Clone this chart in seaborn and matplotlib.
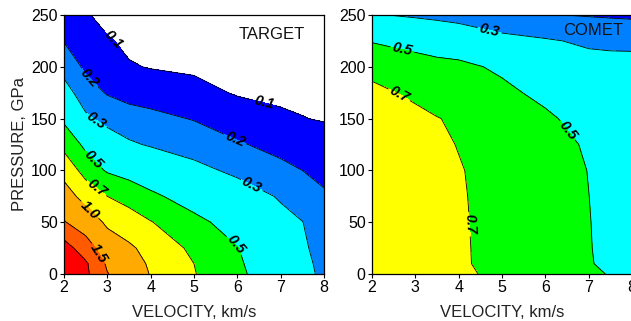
import numpy as np
import matplotlib
matplotlib.use("Agg")
import matplotlib.pyplot as plt
import seaborn as sns

# ---------------- data ----------------
velocity = [2, 2.5, 3, 3.5, 4, 5, 6, 7, 7.5, 8]          # km/s
pressure = [0, 10, 25, 50, 75, 100, 125, 150, 175, 200, 225, 250]  # GPa

# TARGET: one row per pressure, one value per velocity
target = [
    [2.80, 2.10, 1.52, 1.25, 0.98, 0.71, 0.53, 0.40, 0.33, 0.28],
    [2.60, 2.07, 1.43, 1.17, 0.95, 0.70, 0.52, 0.39, 0.325, 0.275],
    [2.22, 1.73, 1.23, 1.05, 0.90, 0.64, 0.505, 0.37, 0.315, 0.265],
    [1.53, 1.25, 0.93, 0.83, 0.71, 0.54, 0.435, 0.33, 0.302, 0.25],
    [1.18, 0.86, 0.70, 0.60, 0.53, 0.43, 0.355, 0.29, 0.25, 0.213],
    [0.87, 0.61, 0.48, 0.44, 0.40, 0.33, 0.278, 0.225, 0.20, 0.173],
    [0.63, 0.46, 0.365, 0.315, 0.29, 0.256, 0.21, 0.17, 0.152, 0.133],
    [0.467, 0.32, 0.266, 0.237, 0.224, 0.195, 0.151, 0.112, 0.102, 0.095],
    [0.348, 0.24, 0.193, 0.171, 0.16, 0.13, 0.092, 0.085, 0.085, 0.08],
    [0.26, 0.184, 0.152, 0.108, 0.095, 0.085, 0.08, 0.072, 0.07, 0.068],
    [0.196, 0.147, 0.11, 0.08, 0.075, 0.07, 0.068, 0.064, 0.062, 0.06],
    [0.143, 0.11, 0.068, 0.06, 0.058, 0.056, 0.055, 0.054, 0.053, 0.052],
]

# COMET
comet = [
    [0.87, 0.835, 0.80, 0.77, 0.73, 0.663, 0.595, 0.527, 0.492, 0.46],
    [0.863, 0.828, 0.792, 0.757, 0.721, 0.65, 0.579, 0.509, 0.473, 0.44],
    [0.862, 0.827, 0.791, 0.756, 0.72, 0.649, 0.578, 0.506, 0.47, 0.435],
    [0.861, 0.825, 0.789, 0.754, 0.718, 0.646, 0.575, 0.504, 0.468, 0.432],
    [0.858, 0.822, 0.787, 0.751, 0.715, 0.643, 0.572, 0.501, 0.464, 0.428],
    [0.852, 0.816, 0.781, 0.745, 0.71, 0.639, 0.568, 0.497, 0.461, 0.426],
    [0.835, 0.80, 0.765, 0.73, 0.694, 0.624, 0.554, 0.484, 0.449, 0.414],
    [0.78, 0.765, 0.74, 0.705, 0.68, 0.60, 0.53, 0.43, 0.415, 0.40],
    [0.75, 0.705, 0.67, 0.64, 0.60, 0.54, 0.456, 0.38, 0.375, 0.375],
    [0.637, 0.60, 0.575, 0.55, 0.54, 0.47, 0.38, 0.335, 0.34, 0.35],
    [0.49, 0.465, 0.44, 0.415, 0.39, 0.33, 0.31, 0.285, 0.275, 0.266],
    [0.309, 0.296, 0.283, 0.27, 0.257, 0.231, 0.205, 0.194, 0.19, 0.187],
]

fill_levels = [0, 0.1, 0.2, 0.3, 0.5, 0.7, 1.0, 1.5, 2.0, 3.0]
line_levels = [0.1, 0.2, 0.3, 0.5, 0.7, 1.0, 1.5, 2.0]
label_text = {0.1: "0.1", 0.2: "0.2", 0.3: "0.3", 0.5: "0.5", 0.7: "0.7",
              1.0: "1.0", 1.5: "1.5", 2.0: "2.0"}
fill_colors = ["#ffffff", "#0000ff", "#0080ff", "#00ffff", "#00ff00",
               "#ffff00", "#ffaa00", "#ff5a00", "#ff0000"]

x_ticks = [2, 3, 4, 5, 6, 7, 8]
y_ticks = [0, 50, 100, 150, 200, 250]

# label anchor spots (styling)
target_label_spots = [(3.1, 225), (6.6, 163), (2.6, 190), (5.9, 126), (2.7, 145),
                      (6.3, 83), (2.6, 108), (6.0, 30), (2.7, 80), (2.6, 62), (2.8, 20)]
comet_label_spots = [(4.7, 233), (2.7, 217), (6.5, 138), (2.7, 178), (4.25, 48)]

# ---------------- style ----------------
sns.set_style("ticks")
plt.rcParams["font.family"] = ["Liberation Sans", "DejaVu Sans"]
plt.rcParams["xtick.direction"] = "out"
plt.rcParams["ytick.direction"] = "out"

fig = plt.figure(figsize=(6.31, 3.21), dpi=100)
ax1 = fig.add_axes([0.1014, 0.1464, 0.412, 0.8069])
ax2 = fig.add_axes([0.5895, 0.1464, 0.412, 0.8069])

V, P = np.meshgrid(velocity, pressure)


def draw(ax, Z, title, spots, title_xy):
    Z = np.array(Z)
    ax.contourf(V, P, Z, levels=fill_levels, colors=fill_colors)
    cs = ax.contour(V, P, Z, levels=line_levels, colors="black", linewidths=0.6)
    labs = ax.clabel(cs, levels=[l for l in line_levels if l < 2.0], fmt=label_text,
                     manual=spots, inline=True, inline_spacing=2, fontsize=10.5)
    for t in labs:
        t.set_fontweight("bold")
        t.set_fontstyle("italic")
        t.set_color("black")
    ax.set_xlim(2, 8)
    ax.set_ylim(0, 250)
    ax.set_xticks(x_ticks)
    ax.set_yticks(y_ticks)
    ax.tick_params(labelsize=11.5, length=3, width=0.8, colors="black", pad=1.5)
    for s in ax.spines.values():
        s.set_color("black")
        s.set_linewidth(0.9)
    ax.set_xlabel("VELOCITY, km/s", fontsize=12, color="#222222", labelpad=7)
    ax.text(title_xy[0], title_xy[1], title, transform=ax.transAxes,
            fontsize=12, ha="center", va="center", color="#111111")


draw(ax1, target, "TARGET", target_label_spots, (0.80, 0.925))
draw(ax2, comet, "COMET", comet_label_spots, (0.85, 0.94))
ax1.set_ylabel("PRESSURE, GPa", fontsize=12, color="#222222", labelpad=3)

fig.savefig("out.png", dpi=100)
